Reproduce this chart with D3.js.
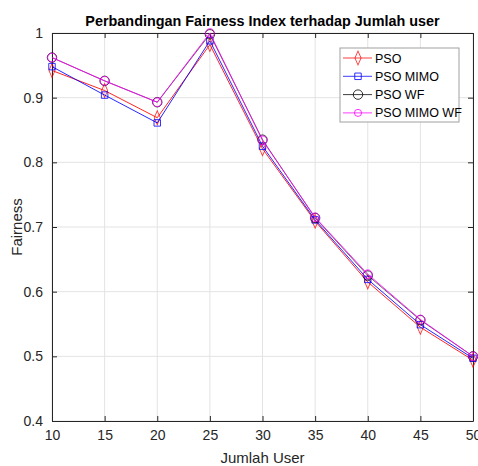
<!DOCTYPE html>
<html><head><meta charset="utf-8">
<script src="https://cdn.jsdelivr.net/npm/d3@7"></script>
<style>body{margin:0;background:#fff}svg{display:block}text{font-family:"Liberation Sans",Arial,sans-serif}</style>
</head><body>
<script>
const users = [10,15,20,25,30,35,40,45,50];
const pso      = [0.942,0.911,0.869,0.982,0.821,0.709,0.615,0.545,0.494];
const psoMimo  = [0.948,0.904,0.861,0.988,0.825,0.711,0.619,0.549,0.497];
const psoWf    = [0.962,0.926,0.893,0.998,0.835,0.714,0.625,0.556,0.500];
const psoMimoWf= [0.962,0.926,0.893,1.000,0.834,0.715,0.627,0.557,0.500];
const seriesNames = ["PSO","PSO MIMO","PSO WF","PSO MIMO WF"];
const xTicks = [10,15,20,25,30,35,40,45,50];
const yTicks = [0.4,0.5,0.6,0.7,0.8,0.9,1];

const W=478,H=466;
const m={l:52,r:5,t:33,b:45};
const svg=d3.select("body").append("svg").attr("width",W).attr("height",H);
const x=d3.scaleLinear().domain([10,50]).range([m.l,W-m.r]);
const y=d3.scaleLinear().domain([0.4,1]).range([H-m.b,m.t]);
const axCol="#262626";

// grid
const g=svg.append("g");
g.selectAll(".gx").data(xTicks).join("line").attr("x1",d=>x(d)).attr("x2",d=>x(d)).attr("y1",y(0.4)).attr("y2",y(1)).attr("stroke","#e3e3e3").attr("stroke-width",1);
g.selectAll(".gy").data(yTicks).join("line").attr("y1",d=>y(d)).attr("y2",d=>y(d)).attr("x1",x(10)).attr("x2",x(50)).attr("stroke","#e3e3e3").attr("stroke-width",1);

// axes
const xa=svg.append("g").attr("transform",`translate(0,${y(0.4)})`).call(d3.axisBottom(x).tickValues(xTicks).tickSizeInner(-5).tickSizeOuter(0).tickPadding(9).tickFormat(d3.format("d")));
const xt=svg.append("g").attr("transform",`translate(0,${y(1)})`).call(d3.axisTop(x).tickValues(xTicks).tickSizeInner(-5).tickSizeOuter(0).tickFormat(""));
const ya=svg.append("g").attr("transform",`translate(${x(10)},0)`).call(d3.axisLeft(y).tickValues(yTicks).tickSizeInner(-5).tickSizeOuter(0).tickPadding(9).tickFormat(d=>d===1?"1":d3.format(".1f")(d)));
const yr=svg.append("g").attr("transform",`translate(${x(50)},0)`).call(d3.axisRight(y).tickValues(yTicks).tickSizeInner(-5).tickSizeOuter(0).tickFormat(""));
[xa,xt,ya,yr].forEach(a=>{a.select(".domain").attr("stroke",axCol).attr("stroke-width",1);a.selectAll(".tick line").attr("stroke",axCol);a.selectAll("text").attr("fill",axCol).attr("font-size",14).attr("font-family","Liberation Sans, Arial, sans-serif");});

const colors=["#ff0000","#0000ff","#000000","#ff00ff"];
const symbols=[d3.symbolDiamond,d3.symbolSquare,d3.symbolCircle,d3.symbolCircle];
const sizes=[50,42,70,60];
const data=[pso,psoMimo,psoWf,psoMimoWf];
const line=d3.line().x((d,i)=>x(users[i])).y(d=>y(d));
data.forEach((s,k)=>{
  const gg=svg.append("g");
  gg.append("path").attr("d",line(s)).attr("fill","none").attr("stroke",colors[k]).attr("stroke-width",1).attr("opacity",k===2?0.6:0.85);
  gg.selectAll("path.m").data(s).join("path").attr("class","m")
    .attr("transform",(d,i)=>`translate(${x(users[i])},${y(d)})${k===0?" scale(0.8,1.05)":""}`)
    .attr("d",d3.symbol(symbols[k],sizes[k])).attr("fill","none").attr("stroke",colors[k]).attr("stroke-width",1).attr("opacity",0.8);
});

// legend
const lg=svg.append("g");
lg.append("rect").attr("x",340).attr("y",48).attr("width",119).attr("height",74).attr("fill","#fff").attr("stroke","#a0a0a0").attr("stroke-width",1);
seriesNames.forEach((n,k)=>{
  const yy=58+k*18.3;
  lg.append("line").attr("x1",343).attr("x2",372).attr("y1",yy).attr("y2",yy).attr("stroke",colors[k]).attr("stroke-width",1).attr("opacity",0.75);
  lg.append("path").attr("transform",`translate(358,${yy})${k===0?" scale(0.8,1.05)":""}`).attr("d",d3.symbol(symbols[k],k===3?40:sizes[k])).attr("fill","none").attr("stroke",colors[k]).attr("opacity",0.8);
  lg.append("text").attr("x",375).attr("y",yy+4.5).attr("font-size",12.5).attr("fill","#000").text(n);
});

// labels
svg.append("text").attr("x",(x(10)+x(50))/2).attr("y",26).attr("text-anchor","middle").attr("font-weight","bold").attr("font-size",14.4).attr("fill","#000").text("Perbandingan Fairness Index terhadap Jumlah user");
svg.append("text").attr("x",(x(10)+x(50))/2).attr("y",463).attr("text-anchor","middle").attr("font-size",15).attr("fill",axCol).text("Jumlah User");
svg.append("text").attr("transform",`translate(22,${(y(0.4)+y(1))/2}) rotate(-90)`).attr("text-anchor","middle").attr("font-size",15).attr("fill",axCol).text("Fairness");
</script>
</body></html>
